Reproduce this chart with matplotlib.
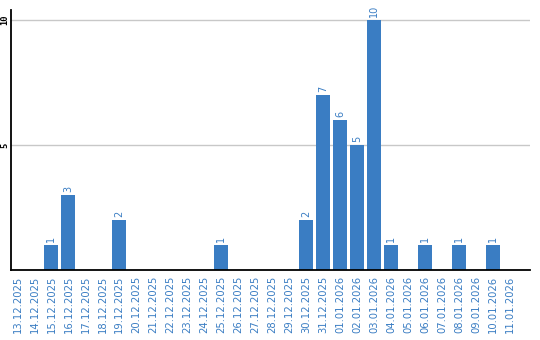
import matplotlib
matplotlib.use("Agg")
import matplotlib.pyplot as plt
import numpy as np

dates = ["13.12.2025", "14.12.2025", "15.12.2025", "16.12.2025", "17.12.2025",
         "18.12.2025", "19.12.2025", "20.12.2025", "21.12.2025", "22.12.2025",
         "23.12.2025", "24.12.2025", "25.12.2025", "26.12.2025", "27.12.2025",
         "28.12.2025", "29.12.2025", "30.12.2025", "31.12.2025", "01.01.2026",
         "02.01.2026", "03.01.2026", "04.01.2026", "05.01.2026", "06.01.2026",
         "07.01.2026", "08.01.2026", "09.01.2026", "10.01.2026", "11.01.2026"]
counts = [0, 0, 1, 3, 0, 0, 2, 0, 0, 0, 0, 0, 1, 0, 0,
          0, 0, 2, 7, 6, 5, 10, 1, 0, 1, 0, 1, 0, 1, 0]
yticks = [5, 10]

BLUE = '#3a7dc3'

fig = plt.figure(figsize=(5.4, 3.4), dpi=100)
ax = fig.add_axes([10.5 / 540, 70 / 340, (530 - 10.5) / 540, 260 / 340])

x = np.arange(len(dates))
ax.bar(x, counts, width=0.82, color=BLUE, zorder=2)
for xi, c in zip(x, counts):
    if c > 0:
        ax.text(xi, c + 0.12, str(c), rotation=90, ha='center', va='bottom',
                color=BLUE, fontsize=7)

ax.set_xlim(-0.41, 30.18)
ax.set_ylim(0, 10.4)
ax.set_xticks(x)
ax.set_xticklabels(dates, rotation=90, color=BLUE, fontsize=7.2)
ax.set_yticks(yticks)
ax.set_yticklabels([str(v) for v in yticks], rotation=90, fontsize=6.3,
                   va='center', family='DejaVu Sans Mono', weight='bold')
ax.tick_params(axis='both', length=0)
ax.tick_params(axis='x', pad=4)
ax.tick_params(axis='y', pad=1)
ax.yaxis.grid(True, color='#c8c8c8', linewidth=1, zorder=0)
ax.set_axisbelow(True)
for s in ['top', 'right']:
    ax.spines[s].set_visible(False)
for s in ['left', 'bottom']:
    ax.spines[s].set_linewidth(1.3)
    ax.spines[s].set_color('black')

fig.savefig("out.png", dpi=100)
